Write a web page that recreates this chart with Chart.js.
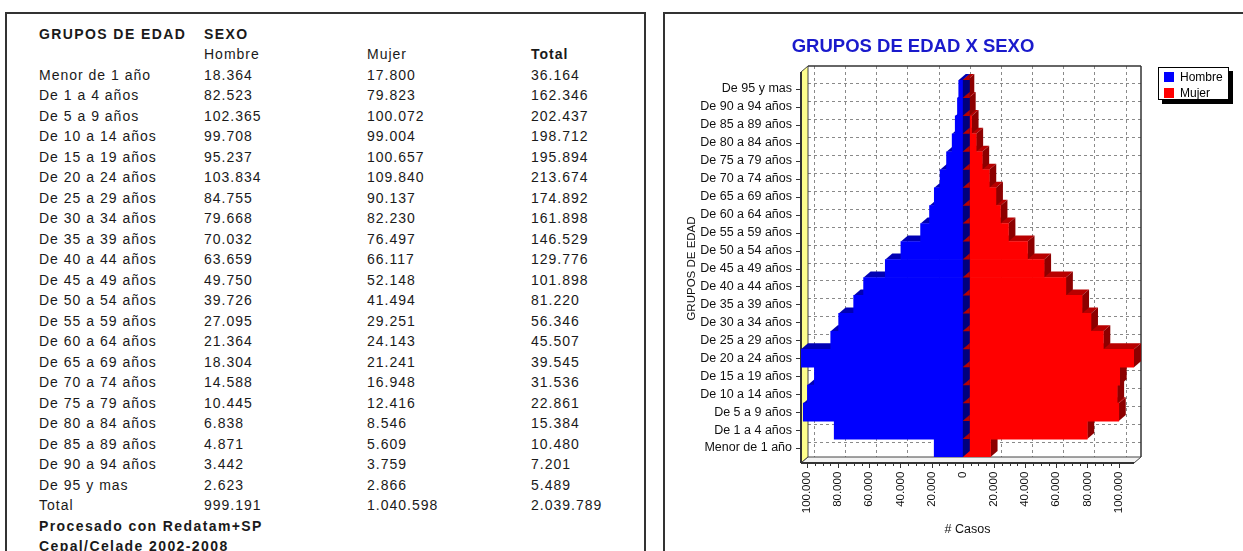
<!DOCTYPE html>
<html lang="es">
<head>
<meta charset="utf-8">
<title>Grupos de edad x sexo</title>
<script src="https://cdn.jsdelivr.net/npm/chart.js@4.4.1/dist/chart.umd.min.js"></script>
<style>
  html, body { margin: 0; padding: 0; background: #fff; }
  body { width: 1243px; height: 551px; overflow: hidden; position: relative;
         font-family: "Liberation Sans", Arial, sans-serif; color: #1a1a1a; }
  .panel { position: absolute; border: 2px solid #333; box-sizing: border-box; }
  #tablePanel { left: 5px; top: 12px; width: 641px; height: 600px; }
  #chartPanel { left: 663px; top: 12px; width: 700px; height: 600px; }
  .row { position: absolute; left: 0; width: 640px; height: 20px; line-height: 20px;
         white-space: nowrap; font-size: 14px; letter-spacing: 1px; }
  .row span { position: absolute; top: 0; }
  .row.bold { font-weight: bold; letter-spacing: 1.4px; }
  .row span.b { font-weight: bold; }
  #chartBox { position: absolute; left: 664px; top: 13px; width: 498px; height: 538px; }
  #legend { position: absolute; left: 1158px; top: 67px; width: 71px; height: 33px; box-sizing: border-box;
            border: 1px solid #000; background: #fff; box-shadow: 4px 4px 0 #000; font-size: 12px; }
  #legend div { position: absolute; left: 0; height: 16px; line-height: 16px; }
  #legend i { position: absolute; left: 5px; top: 3px; width: 10px; height: 10px; }
  #legend span { position: absolute; left: 21px; top: 0; color: #000; }
</style>
</head>
<body>
<div class="panel" id="tablePanel"></div>
<div class="panel" id="chartPanel"></div>
<div id="table"></div>
<div id="chartBox"><canvas id="pyramid"></canvas></div>
<div id="legend"></div>

<script>
const ageGroups = [
  'Menor de 1 año', 'De 1 a 4 años', 'De 5 a 9 años', 'De 10 a 14 años', 'De 15 a 19 años',
  'De 20 a 24 años', 'De 25 a 29 años', 'De 30 a 34 años', 'De 35 a 39 años', 'De 40 a 44 años',
  'De 45 a 49 años', 'De 50 a 54 años', 'De 55 a 59 años', 'De 60 a 64 años', 'De 65 a 69 años',
  'De 70 a 74 años', 'De 75 a 79 años', 'De 80 a 84 años', 'De 85 a 89 años', 'De 90 a 94 años',
  'De 95 y mas'
];
const hombre = [18364, 82523, 102365, 99708, 95237, 103834, 84755, 79668, 70032, 63659, 49750,
  39726, 27095, 21364, 18304, 14588, 10445, 6838, 4871, 3442, 2623];
const mujer = [17800, 79823, 100072, 99004, 100657, 109840, 90137, 82230, 76497, 66117, 52148,
  41494, 29251, 24143, 21241, 16948, 12416, 8546, 5609, 3759, 2866];
const xTicks = [-100000, -80000, -60000, -40000, -20000, 0, 20000, 40000, 60000, 80000, 100000];

const BLUE = '#0000ff', BLUE_TOP = '#0000b4', BLUE_SIDE = '#00007c';
const RED = '#ff0000', RED_TOP = '#b80000', RED_SIDE = '#8c0000';
const DX = 7, DY = 6, TOP_GAP = 8;

function fmt(n) {
  return String(Math.abs(n)).replace(/\B(?=(\d{3})+(?!\d))/g, '.');
}
function sum(a) { return a.reduce((s, v) => s + v, 0); }

function buildTable() {
  const cols = [39, 204, 367, 531];
  const rows = [];
  rows.push({ cells: ['GRUPOS DE EDAD', 'SEXO'], bold: true });
  rows.push({ cells: ['', 'Hombre', 'Mujer', 'Total'], boldCol: 3 });
  ageGroups.forEach((g, i) => rows.push({ cells: [g, fmt(hombre[i]), fmt(mujer[i]), fmt(hombre[i] + mujer[i])] }));
  const th = sum(hombre), tm = sum(mujer);
  rows.push({ cells: ['Total', fmt(th), fmt(tm), fmt(th + tm)] });
  rows.push({ cells: ['Procesado con Redatam+SP'], bold: true });
  rows.push({ cells: ['Cepal/Celade 2002-2008'], bold: true });

  const host = document.getElementById('table');
  rows.forEach((r, k) => {
    const div = document.createElement('div');
    div.className = 'row' + (r.bold ? ' bold' : '');
    div.style.top = (33.7 + 20.5 * k - 10) + 'px';
    r.cells.forEach((c, j) => {
      if (!c) return;
      const s = document.createElement('span');
      s.textContent = c;
      s.style.left = cols[j] + 'px';
      if (r.boldCol === j) s.className = 'b';
      div.appendChild(s);
    });
    host.appendChild(div);
  });
}

function poly(ctx, pts, fill, stroke) {
  ctx.beginPath();
  ctx.moveTo(pts[0][0], pts[0][1]);
  for (let i = 1; i < pts.length; i++) ctx.lineTo(pts[i][0], pts[i][1]);
  ctx.closePath();
  if (fill) { ctx.fillStyle = fill; ctx.fill(); }
  if (stroke) { ctx.strokeStyle = stroke; ctx.stroke(); }
}
function line(ctx, x1, y1, x2, y2) {
  ctx.beginPath(); ctx.moveTo(x1, y1); ctx.lineTo(x2, y2); ctx.stroke();
}
function barBox(el) {
  const p = el.getProps(['x', 'y', 'base', 'height'], true);
  return { x: p.x, base: p.base, top: p.y - p.height / 2, bot: p.y + p.height / 2 };
}

// title centred on the canvas rather than on the plot
const canvasTitle = {
  id: 'canvasTitle',
  afterDraw(chart, args, opts) {
    const { ctx } = chart;
    ctx.save();
    ctx.font = 'bold 18.5px "Liberation Sans", Arial, sans-serif';
    ctx.fillStyle = opts.color;
    ctx.textAlign = 'center';
    ctx.textBaseline = 'middle';
    ctx.fillText(opts.text, chart.width / 2, opts.y);
    ctx.restore();
  }
};

// walls, floor, grid and the depth faces of the bars
const box3d = {
  id: 'box3d',
  beforeDatasetsDraw(chart) {
    const { ctx, chartArea: a, scales: { x, y } } = chart;
    const wallTop = a.top - DY - TOP_GAP;
    ctx.save();
    ctx.lineWidth = 1;

    ctx.strokeStyle = '#8a8a8a';
    ctx.setLineDash([3, 3]);
    x.ticks.forEach(t => {
      const px = Math.round(x.getPixelForValue(t.value) + DX) + 0.5;
      line(ctx, px, wallTop, px, a.bottom);
    });
    ageGroups.forEach((g, i) => {
      const py = Math.round(y.getPixelForValue(i) - DY) + 0.5;
      line(ctx, a.left + DX, py, a.right + DX, py);
    });
    ctx.setLineDash([]);

    poly(ctx, [[a.left, wallTop + DY], [a.left + DX, wallTop], [a.left + DX, a.bottom], [a.left, a.bottom + DY]], '#ffff8c', '#444');
    poly(ctx, [[a.left, a.bottom + DY], [a.left + DX, a.bottom], [a.right + DX, a.bottom], [a.right, a.bottom + DY]], '#f2f2f2', '#444');

    ctx.strokeStyle = '#333';
    ctx.lineWidth = 1.5;
    line(ctx, a.left + DX, wallTop, a.right + DX, wallTop);
    line(ctx, a.right + DX, wallTop, a.right + DX, a.bottom);
    ctx.lineWidth = 2;
    line(ctx, a.left, a.bottom + DY, a.right, a.bottom + DY);
    line(ctx, a.left, wallTop + DY, a.left, a.bottom + DY);

    // tick marks
    ctx.lineWidth = 1;
    ctx.strokeStyle = '#333';
    const step = (xTicks[1] - xTicks[0]) / 4;
    for (let v = xTicks[0]; v <= xTicks[xTicks.length - 1]; v += step) {
      const px = Math.round(x.getPixelForValue(v)) + 0.5;
      const major = xTicks.includes(v);
      line(ctx, px, a.bottom + DY, px, a.bottom + DY + (major ? 5 : 3));
    }
    ageGroups.forEach((g, i) => {
      const py = Math.round(y.getPixelForValue(i)) + 0.5;
      line(ctx, a.left - 5, py, a.left, py);
    });

    // depth faces, bottom group first so upper bars overlap lower ones
    const mh = chart.getDatasetMeta(0), mm = chart.getDatasetMeta(1);
    for (let i = 0; i < ageGroups.length; i++) {
      const m = barBox(mm.data[i]), h = barBox(mh.data[i]);
      poly(ctx, [[m.base, m.top], [m.x, m.top], [m.x + DX, m.top - DY], [m.base + DX, m.top - DY]], RED_TOP);
      poly(ctx, [[m.x, m.top], [m.x + DX, m.top - DY], [m.x + DX, m.bot - DY], [m.x, m.bot]], RED_SIDE);
      poly(ctx, [[h.x, h.top], [h.base, h.top], [h.base + DX, h.top - DY], [h.x + DX, h.top - DY]], BLUE_TOP);
    }
    ctx.restore();
  },
  afterDatasetsDraw(chart) {
    const { ctx } = chart;
    const mh = chart.getDatasetMeta(0), mm = chart.getDatasetMeta(1);
    ctx.save();
    for (let i = 0; i < ageGroups.length; i++) {
      const h = barBox(mh.data[i]);
      poly(ctx, [[h.base, h.top], [h.base + DX, h.top - DY], [h.base + DX, h.bot - DY], [h.base, h.bot]], BLUE_SIDE);
    }
    for (let i = 0; i < ageGroups.length; i++) {
      const m = barBox(mm.data[i]);
      poly(ctx, [[m.base, m.top], [m.base + DX, m.top - DY], [m.base + DX, m.top]], RED_TOP);
    }
    ctx.restore();
  }
};

function renderPyramid() {
  Chart.defaults.font.family = '"Liberation Sans", Arial, sans-serif';
  Chart.defaults.color = '#111';
  const chart = new Chart(document.getElementById('pyramid'), {
    type: 'bar',
    data: {
      labels: ageGroups,
      datasets: [
        { label: 'Hombre', data: hombre.map(v => -v), backgroundColor: BLUE, borderWidth: 0,
          barPercentage: 1, categoryPercentage: 1 },
        { label: 'Mujer', data: mujer, backgroundColor: RED, borderWidth: 0,
          barPercentage: 1, categoryPercentage: 1 }
      ]
    },
    options: {
      indexAxis: 'y',
      responsive: true,
      maintainAspectRatio: false,
      animation: false,
      events: [],
      layout: { padding: { left: 0, right: 28, top: 67, bottom: 0 } },
      plugins: {
        legend: { display: false },
        tooltip: { enabled: false },
        title: { display: false },
        canvasTitle: { text: 'GRUPOS DE EDAD X SEXO', color: '#1a1acc', y: 34 }
      },
      scales: {
        x: {
          stacked: true,
          min: -Math.max(...hombre),
          max: Math.max(...mujer),
          grid: { display: false, drawTicks: false },
          border: { display: false },
          afterBuildTicks: s => { s.ticks = xTicks.map(v => ({ value: v })); },
          afterFit: s => { s.height = 94; },
          ticks: { minRotation: 90, maxRotation: 90, padding: 14.7, font: { size: 11.5 },
                   callback: v => fmt(v), autoSkip: false },
          title: { display: true, text: '# Casos', font: { size: 12.5 }, padding: { top: 0, bottom: 14 } }
        },
        y: {
          stacked: true,
          reverse: true,
          grid: { display: false, drawTicks: false },
          border: { display: false },
          afterFit: s => { s.width = 137; },
          ticks: { padding: 9, font: { size: 12.5 }, autoSkip: false, color: '#111' },
          title: { display: true, text: 'GRUPOS DE EDAD', font: { size: 11.5 }, padding: { top: 21.1, bottom: 0 } }
        }
      }
    },
    plugins: [box3d, canvasTitle]
  });

  const legend = document.getElementById('legend');
  chart.data.datasets.forEach((ds, i) => {
    const d = document.createElement('div');
    d.style.top = (1 + 16 * i) + 'px';
    d.innerHTML = '<i style="background:' + ds.backgroundColor + '"></i><span></span>';
    d.querySelector('span').textContent = ds.label;
    legend.appendChild(d);
  });
}

buildTable();
renderPyramid();
</script>
</body>
</html>
